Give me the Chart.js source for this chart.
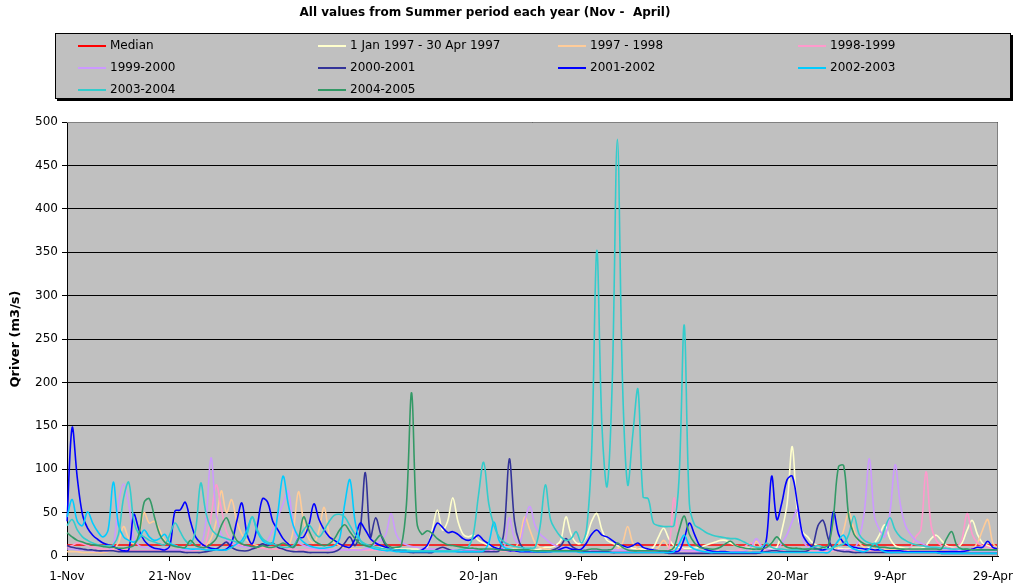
<!DOCTYPE html>
<html>
<head>
<meta charset="utf-8">
<script src="https://cdn.jsdelivr.net/npm/chart.js@4.4.1/dist/chart.umd.min.js"></script>
<style>
  body { margin: 0; background: #fff; font-family: "DejaVu Sans", Arial, sans-serif; }
  #wrap { position: relative; width: 1017px; height: 587px; }
  #title { position: absolute; left: 0; top: 5px; width: 970px; text-align: center; font-weight: bold; font-size: 12px; white-space: pre; }
  #legend { position: absolute; left: 55px; top: 33px; width: 954px; height: 64px; background: #c0c0c0; border: 1px solid #000; box-shadow: 2px 2px 0 #000; }
  .item { position: absolute; font-size: 12px; line-height: 14px; white-space: nowrap; }
  .item .ln { display: inline-block; width: 28px; height: 2px; vertical-align: middle; margin-right: 4px; }
</style>
</head>
<body>
<div id="wrap">
  <canvas id="my-chart" width="1017" height="587"></canvas>
  <div id="title">All values from Summer period each year (Nov -  April)</div>
  <div id="legend"></div>
</div>
<script>
'use strict';

// ******** DATA **************
let tickLabels = ['1-Nov', '21-Nov', '11-Dec', '31-Dec', '20-Jan', '9-Feb', '29-Feb', '20-Mar', '9-Apr', '29-Apr'];
let medianQ = 12.7;

// Jan 1997 series only starts on 1-Jan (day 61)
let jan97Start = 61;
let jan97 = [
  10, 9, 9, 8, 8, 8, 8, 8, 8,
  10, 30, 53, 30, 40, 67, 40, 25, 22, 24,
  18, 15, 12, 10, 9, 8, 8, 8, 7, 7,
  7, 7, 8, 10, 10, 12, 18, 45, 25, 15,
  15, 22, 40, 49, 30, 18, 15, 12, 10, 10,
  9, 8, 8, 8, 10, 22, 32, 20, 12, 10,
  9, 9, 9, 10, 12, 14, 16, 18, 18, 15,
  12, 10, 10, 9, 9, 8, 8, 8, 10, 30,
  60, 126, 50, 28, 22, 15, 12, 10, 10, 9,
  9, 8, 8, 8, 8, 8, 10, 15, 25, 36,
  20, 12, 10, 9, 9, 9, 9, 12, 20, 24,
  18, 12, 10, 10, 15, 30, 41, 25, 15, 12,
  10, 9
];
let y9798 = [
  5, 5, 5, 4, 4, 4, 4, 4, 5, 8,
  15, 34, 20, 14, 25, 50, 38, 40, 30, 18,
  14, 12, 10, 9, 8, 8, 9, 12, 20, 40,
  75, 50, 65, 40, 25, 18, 14, 12, 10, 9,
  8, 8, 8, 10, 30, 74, 40, 20, 15, 30,
  56, 25, 15, 12, 10, 9, 8, 8, 7, 7,
  7, 7, 7, 6, 6, 6, 6, 6, 6, 6,
  6, 6, 6, 6, 6, 6, 6, 6, 6, 6,
  6, 6, 6, 6, 6, 6, 6, 8, 20, 45,
  30, 15, 10, 8, 7, 7, 6, 6, 6, 6,
  6, 6, 6, 6, 6, 6, 6, 8, 15, 34,
  15, 8, 6, 6, 6, 10, 18, 10, 8, 6,
  6, 6, 6, 6, 6, 6, 6, 6, 6, 6,
  6, 6, 6, 6, 17, 10, 6, 6, 6, 6,
  6, 6, 6, 6, 6, 6, 6, 6, 6, 6,
  12, 30, 51, 30, 15, 10, 8, 8, 7, 7,
  7, 7, 6, 6, 6, 6, 6, 6, 6, 6,
  6, 6, 6, 6, 6, 6, 8, 15, 30, 42,
  15, 8
];
let y9899 = [
  10, 12, 15, 14, 12, 10, 9, 8, 8, 7,
  7, 7, 7, 6, 6, 6, 6, 6, 6, 6,
  6, 6, 6, 6, 6, 6, 8, 15, 45, 82,
  55, 28, 18, 14, 12, 10, 10, 9, 9, 8,
  8, 8, 8, 8, 8, 7, 7, 7, 7, 7,
  7, 7, 7, 7, 7, 7, 7, 7, 7, 7,
  7, 6, 6, 6, 6, 6, 6, 6, 6, 6,
  6, 6, 6, 6, 6, 6, 6, 6, 6, 6,
  6, 6, 6, 6, 6, 6, 6, 6, 6, 6,
  6, 6, 6, 6, 6, 6, 5, 5, 5, 5,
  5, 5, 5, 5, 5, 5, 5, 5, 5, 5,
  5, 5, 5, 5, 5, 5, 6, 8, 67, 15,
  6, 5, 5, 5, 5, 5, 5, 5, 5, 5,
  6, 8, 12, 15, 10, 8, 6, 6, 6, 6,
  6, 6, 6, 6, 6, 6, 6, 6, 6, 6,
  6, 6, 6, 6, 6, 6, 6, 6, 6, 6,
  6, 6, 6, 6, 10, 22, 30, 97, 35, 18,
  12, 10, 9, 10, 20, 49, 25, 15, 12, 10,
  9, 8
];
let y9900 = [
  8, 8, 7, 7, 7, 6, 6, 6, 6, 12,
  60, 83, 60, 20, 12, 10, 9, 8, 8, 8,
  7, 7, 7, 7, 7, 8, 10, 40, 113, 50,
  25, 18, 14, 12, 11, 10, 10, 10, 12, 18,
  30, 45, 60, 75, 35, 16, 12, 10, 9, 8,
  8, 7, 7, 7, 7, 7, 7, 7, 8, 10,
  14, 18, 25, 49, 25, 16, 13, 11, 10, 9,
  8, 8, 8, 7, 7, 7, 7, 7, 7, 7,
  7, 7, 7, 7, 7, 10, 44, 20, 15, 40,
  57, 35, 25, 20, 15, 12, 10, 9, 8, 8,
  7, 7, 7, 7, 7, 7, 7, 7, 7, 6,
  6, 6, 6, 6, 6, 6, 6, 6, 6, 6,
  6, 6, 6, 5, 5, 5, 5, 5, 5, 5,
  5, 5, 6, 10, 20, 12, 8, 7, 7, 15,
  25, 40, 53, 20, 10, 8, 7, 7, 7, 7,
  7, 7, 7, 8, 20, 50, 112, 45, 30, 22,
  50, 105, 60, 35, 25, 18, 15, 12, 10, 9,
  8, 8, 7, 7, 7, 7, 6, 6, 6, 6,
  6, 6
];
let y0001 = [
  12, 10, 9, 8, 7, 7, 6, 6, 6, 6,
  5, 5, 5, 5, 5, 5, 5, 5, 5, 5,
  5, 5, 5, 4, 4, 4, 4, 5, 6, 8,
  12, 16, 10, 7, 6, 6, 8, 10, 14, 12,
  15, 10, 8, 6, 5, 5, 5, 4, 4, 4,
  4, 4, 5, 8, 15, 22, 12, 30, 96, 22,
  44, 25, 12, 8, 6, 5, 5, 4, 4, 4,
  4, 4, 8, 10, 8, 6, 5, 5, 5, 5,
  5, 5, 5, 5, 6, 30, 112, 40, 15, 8,
  6, 5, 5, 5, 6, 8, 12, 20, 12, 8,
  6, 5, 5, 5, 5, 5, 4, 4, 4, 4,
  4, 4, 4, 4, 4, 4, 4, 3, 3, 3,
  3, 3, 3, 3, 3, 3, 3, 3, 3, 3,
  3, 3, 3, 3, 3, 4, 5, 6, 6, 5,
  5, 5, 5, 5, 6, 12, 35, 41, 20, 8,
  6, 5, 5, 4, 4, 4, 4, 4, 4, 4,
  4, 4, 4, 4, 4, 4, 4, 4, 4, 4,
  3, 3, 3, 3, 3, 3, 3, 3, 3, 3,
  3, 3
];
let y0102 = [
  40, 148, 90, 48, 32, 24, 19, 15, 13, 11,
  8, 6, 7, 48, 30, 18, 12, 9, 8, 7,
  12, 52, 53, 62, 40, 22, 15, 11, 9, 8,
  7, 8, 15, 40, 61, 25, 14, 35, 66, 62,
  40, 30, 20, 14, 10, 20, 22, 35, 60, 42,
  30, 22, 18, 14, 11, 10, 20, 38, 30, 20,
  15, 12, 10, 8, 7, 7, 6, 6, 6, 7,
  12, 25, 38, 33, 27, 28, 25, 20, 18, 20,
  24, 18, 14, 10, 8, 7, 6, 6, 5, 5,
  5, 5, 5, 5, 5, 6, 8, 10, 8, 7,
  8, 15, 25, 30, 24, 22, 18, 14, 12, 10,
  12, 15, 10, 8, 7, 6, 6, 5, 5, 6,
  20, 38, 25, 12, 8, 6, 5, 5, 5, 4,
  4, 4, 4, 4, 4, 5, 20, 92, 42, 62,
  88, 92, 60, 25, 15, 10, 8, 7, 10, 51,
  25, 15, 12, 10, 9, 8, 8, 7, 7, 6,
  6, 6, 6, 5, 5, 5, 5, 5, 5, 5,
  5, 5, 5, 5, 5, 6, 8, 10, 10, 17,
  10, 8
];
let y0203 = [
  45, 65, 40, 35, 51, 38, 28, 22, 30, 85,
  36, 22, 18, 16, 20, 30, 22, 18, 20, 25,
  15, 12, 10, 9, 8, 8, 8, 7, 7, 7,
  7, 7, 10, 14, 18, 30, 45, 28, 18, 14,
  15, 50, 92, 60, 35, 22, 16, 12, 10, 9,
  9, 10, 12, 20, 60, 88, 40, 18, 12, 10,
  8, 7, 6, 6, 5, 5, 5, 5, 5, 5,
  5, 5, 5, 5, 5, 5, 5, 5, 5, 5,
  5, 6, 15, 39, 18, 10, 8, 7, 6, 6,
  6, 5, 5, 5, 5, 5, 5, 5, 5, 5,
  4, 4, 4, 4, 4, 4, 4, 4, 4, 4,
  4, 4, 4, 4, 4, 4, 4, 4, 5, 14,
  24, 12, 8, 6, 5, 4, 4, 4, 4, 4,
  4, 4, 4, 4, 4, 4, 4, 4, 4, 4,
  4, 4, 4, 4, 4, 4, 4, 4, 4, 10,
  18, 24, 12, 8, 6, 5, 8, 15, 8, 5,
  4, 4, 4, 4, 4, 4, 4, 4, 4, 4,
  3, 3, 3, 3, 3, 3, 3, 3, 3, 3,
  3, 3
];
let y0304 = [
  35, 42, 30, 22, 18, 15, 13, 12, 12, 13,
  25, 67, 85, 40, 25, 22, 18, 16, 14, 13,
  25, 38, 28, 18, 14, 30, 84, 50, 32, 25,
  22, 20, 18, 16, 15, 25, 45, 30, 20, 16,
  14, 12, 10, 10, 12, 20, 30, 36, 28, 22,
  30, 40, 47, 48, 45, 35, 25, 18, 14, 12,
  10, 9, 8, 8, 7, 7, 7, 6, 6, 6,
  6, 6, 6, 6, 6, 6, 7, 8, 10, 25,
  70, 108, 60, 35, 22, 16, 13, 11, 10, 9,
  9, 10, 35, 82, 42, 30, 22, 18, 20, 28,
  15, 30, 120, 352, 150, 80, 200, 480, 200, 82,
  140, 192, 68, 66, 38, 35, 34, 34, 35, 90,
  266, 60, 36, 32, 28, 25, 23, 22, 21, 20,
  20, 18, 15, 12, 10, 10, 15, 10, 8, 8,
  7, 7, 7, 7, 8, 10, 12, 10, 8, 10,
  12, 14, 25, 46, 25, 18, 15, 14, 16, 32,
  44, 30, 22, 18, 15, 13, 12, 11, 10, 10,
  9, 9, 8, 8, 8, 8, 7, 7, 7, 7,
  7, 7
];
let y0405 = [
  27, 22, 18, 16, 14, 13, 12, 11, 10, 10,
  9, 9, 10, 12, 25, 62, 66, 45, 25, 16,
  13, 11, 10, 10, 18, 12, 10, 10, 14, 20,
  35, 44, 30, 18, 14, 12, 11, 10, 12, 10,
  10, 12, 15, 12, 10, 20, 45, 30, 18, 14,
  12, 14, 20, 30, 36, 28, 20, 14, 12, 11,
  18, 24, 14, 10, 10, 12, 60, 188, 40, 25,
  29, 26, 20, 16, 13, 12, 11, 10, 9, 9,
  8, 8, 8, 8, 7, 7, 7, 7, 7, 7,
  7, 6, 6, 6, 6, 6, 6, 6, 6, 6,
  6, 7, 8, 8, 7, 7, 8, 15, 10, 7,
  6, 6, 6, 6, 6, 6, 6, 6, 10, 30,
  46, 25, 15, 10, 9, 8, 8, 10, 14, 17,
  12, 10, 9, 8, 8, 8, 10, 15, 22, 15,
  10, 9, 9, 8, 8, 8, 8, 10, 12, 45,
  103, 104, 45, 25, 18, 14, 12, 11, 10, 10,
  9, 9, 8, 8, 8, 8, 8, 8, 8, 8,
  8, 20, 28, 12, 8, 8, 7, 7, 7, 7,
  7, 7
];

// ********* CATEGORIES (1-Nov .. 30-Apr, leap year) *************
let monthNames = ['Jan', 'Feb', 'Mar', 'Apr', 'May', 'Jun', 'Jul', 'Aug', 'Sep', 'Oct', 'Nov', 'Dec'];
let dayLabels = [];
for (let i = 0; i < y0102.length; i++) {
  let d = new Date(2003, 10, 1 + i);
  dayLabels.push(d.getDate() + '-' + monthNames[d.getMonth()]);
}

let seriesList = [
  { name: 'Median', color: '#ff0000', data: dayLabels.map(() => medianQ) },
  { name: '1 Jan 1997 - 30 Apr 1997', color: '#ffffcc', data: new Array(jan97Start).fill(null).concat(jan97) },
  { name: '1997 - 1998', color: '#ffcc99', data: y9798 },
  { name: '1998-1999', color: '#ff99cc', data: y9899 },
  { name: '1999-2000', color: '#cc99ff', data: y9900 },
  { name: '2000-2001', color: '#333399', data: y0001 },
  { name: '2001-2002', color: '#0000ff', data: y0102 },
  { name: '2002-2003', color: '#00ccff', data: y0203 },
  { name: '2003-2004', color: '#33cccc', data: y0304 },
  { name: '2004-2005', color: '#339966', data: y0405 }
];

// ********* LEGEND (4 columns like the excel one) *************
let legendElem = document.getElementById('legend');
for (let i = 0; i < seriesList.length; i++) {
  let item = document.createElement('div');
  item.className = 'item';
  item.style.left = (22 + (i % 4) * 240) + 'px';
  item.style.top = (4 + Math.floor(i / 4) * 22) + 'px';
  item.innerHTML = '<span class="ln" style="background:' + seriesList[i].color + '"></span>' + seriesList[i].name;
  legendElem.appendChild(item);
}

// ********* CHART *************
Chart.defaults.font.family = '"DejaVu Sans", Arial, sans-serif';
Chart.defaults.font.size = 12;
Chart.defaults.color = '#000';

let plotBg = {
  id: 'plotBg',
  beforeDraw(chart) {
    let a = chart.chartArea;
    let ctx = chart.ctx;
    ctx.save();
    ctx.fillStyle = '#c0c0c0';
    ctx.fillRect(a.left, a.top, a.right - a.left, a.bottom - a.top);
    ctx.restore();
  },
  afterDraw(chart) {
    let a = chart.chartArea;
    let ctx = chart.ctx;
    ctx.save();
    ctx.strokeStyle = '#808080';
    ctx.lineWidth = 1;
    ctx.beginPath();
    ctx.moveTo(a.left, a.top + 0.5);
    ctx.lineTo(a.right - 0.5, a.top + 0.5);
    ctx.lineTo(a.right - 0.5, a.bottom);
    ctx.stroke();
    ctx.restore();
  }
};

let datasets = seriesList.map((s, i) => ({
  label: s.name,
  data: s.data,
  borderColor: s.color,
  backgroundColor: s.color,
  borderWidth: 1.6,
  pointRadius: 0,
  tension: 0.35,
  fill: false,
  order: seriesList.length - i
}));

new Chart(document.getElementById('my-chart'), {
  type: 'line',
  data: { labels: dayLabels, datasets: datasets },
  plugins: [plotBg],
  options: {
    responsive: false,
    animation: false,
    layout: { padding: { top: 122, right: 19, left: 0, bottom: 0 } },
    plugins: { legend: { display: false }, tooltip: { enabled: false } },
    scales: {
      x: {
        afterFit: (scale) => {
          scale.height = 31;
          scale.paddingLeft = 0;
          scale.paddingRight = 0;
        },
        grid: { drawOnChartArea: false, tickLength: 5, color: '#000' },
        border: { color: '#000' },
        ticks: {
          autoSkip: false,
          maxRotation: 0,
          padding: 9,
          callback: function (v) {
            let lbl = this.getLabelForValue(v);
            return tickLabels.includes(lbl) && v < 181 ? lbl : null;
          }
        }
      },
      y: {
        min: 0,
        max: 500,
        afterFit: (scale) => { scale.width = 67; },
        grid: { color: '#000', tickLength: 5 },
        border: { color: '#000' },
        ticks: { stepSize: 50, padding: 4 },
        title: { display: true, text: 'Qriver (m3/s)', font: { weight: 'bold', size: 13 }, padding: { top: 8, bottom: 0 } }
      }
    }
  }
});
</script>
</body>
</html>
